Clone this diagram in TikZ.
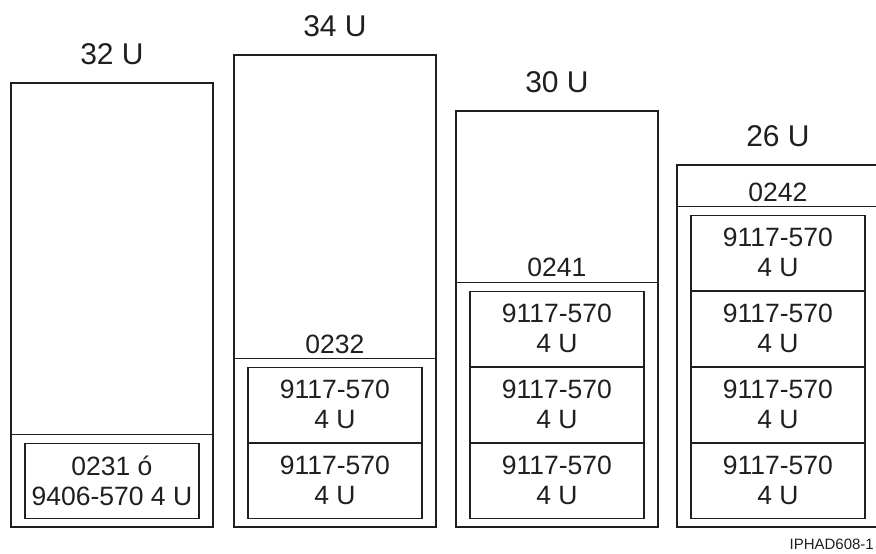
\documentclass[tikz,border=0pt]{standalone}
\usepackage{fontspec}
\setmainfont{Liberation Sans}
\usepackage{tikz}
\usetikzlibrary{positioning,calc}

\begin{document}
\begin{tikzpicture}[x=1pt,y=-1pt,font=\fontsize{26.5}{30}\selectfont,color=black!88]
  \tikzstyle{rack}=[draw,line width=1.9pt,minimum width=202pt,inner sep=0pt,anchor=north west]
  \tikzstyle{unit}=[draw,line width=1.1pt,minimum width=174pt,minimum height=75pt,inner sep=0pt,align=center]
  \tikzstyle{divider}=[line width=1.1pt]
  \tikzstyle{head}=[inner sep=0pt,font=\fontsize{30}{32}\selectfont]
  \tikzstyle{lab}=[inner sep=0pt]
  \useasboundingbox (0,0) rectangle (876,554);
  \clip (0,0) rectangle (876,554);
  % Rack 1 -- 32 U
  \node[rack,minimum height=444pt] (r1) at (10,82) {};
  \node[unit,above=9pt of r1.south] (m11) {0231 ó\\9406-570 4 U};
  \coordinate (d1) at ([yshift=8pt]m11.north);
  \draw[divider] (d1 -| r1.west) -- (d1 -| r1.east);
  \node[head,above=17pt of r1.north] (h1) {32 U};
  % Rack 2 -- 34 U
  \node[rack,minimum height=472pt] (r2) at (233,54) {};
  \node[unit,above=9pt of r2.south] (m21) {9117-570\\4 U};
  \node[unit,above=0pt of m21] (m22) {9117-570\\4 U};
  \coordinate (d2) at ([yshift=8.5pt]m22.north);
  \draw[divider] (d2 -| r2.west) -- (d2 -| r2.east);
  \node[lab,above=4pt of d2] (l2) {0232};
  \node[head,above=17pt of r2.north] (h2) {34 U};
  % Rack 3 -- 30 U
  \node[rack,minimum height=416pt] (r3) at (455,110) {};
  \node[unit,above=9pt of r3.south] (m31) {9117-570\\4 U};
  \node[unit,above=0pt of m31] (m32) {9117-570\\4 U};
  \node[unit,above=0pt of m32] (m33) {9117-570\\4 U};
  \coordinate (d3) at ([yshift=8.5pt]m33.north);
  \draw[divider] (d3 -| r3.west) -- (d3 -| r3.east);
  \node[lab,above=5pt of d3] (l3) {0241};
  \node[head,above=17pt of r3.north] (h3) {30 U};
  % Rack 4 -- 26 U (cut at the right edge)
  \node[rack,minimum height=362pt] (r4) at (676,164) {};
  \node[unit,above=9pt of r4.south] (m41) {9117-570\\4 U};
  \node[unit,above=0pt of m41] (m42) {9117-570\\4 U};
  \node[unit,above=0pt of m42] (m43) {9117-570\\4 U};
  \node[unit,above=0pt of m43] (m44) {9117-570\\4 U};
  \coordinate (d4) at ([yshift=8pt]m44.north);
  \draw[divider] (d4 -| r4.west) -- (d4 -| r4.east);
  \node[lab,above=5pt of d4] (l4) {0242};
  \node[head,above=17pt of r4.north] (h4) {26 U};
  % figure tag
  \node[inner sep=0pt,anchor=base east,font=\fontsize{15}{18}\selectfont] (tag) at (874,549) {IPHAD608-1};
\end{tikzpicture}
\end{document}
